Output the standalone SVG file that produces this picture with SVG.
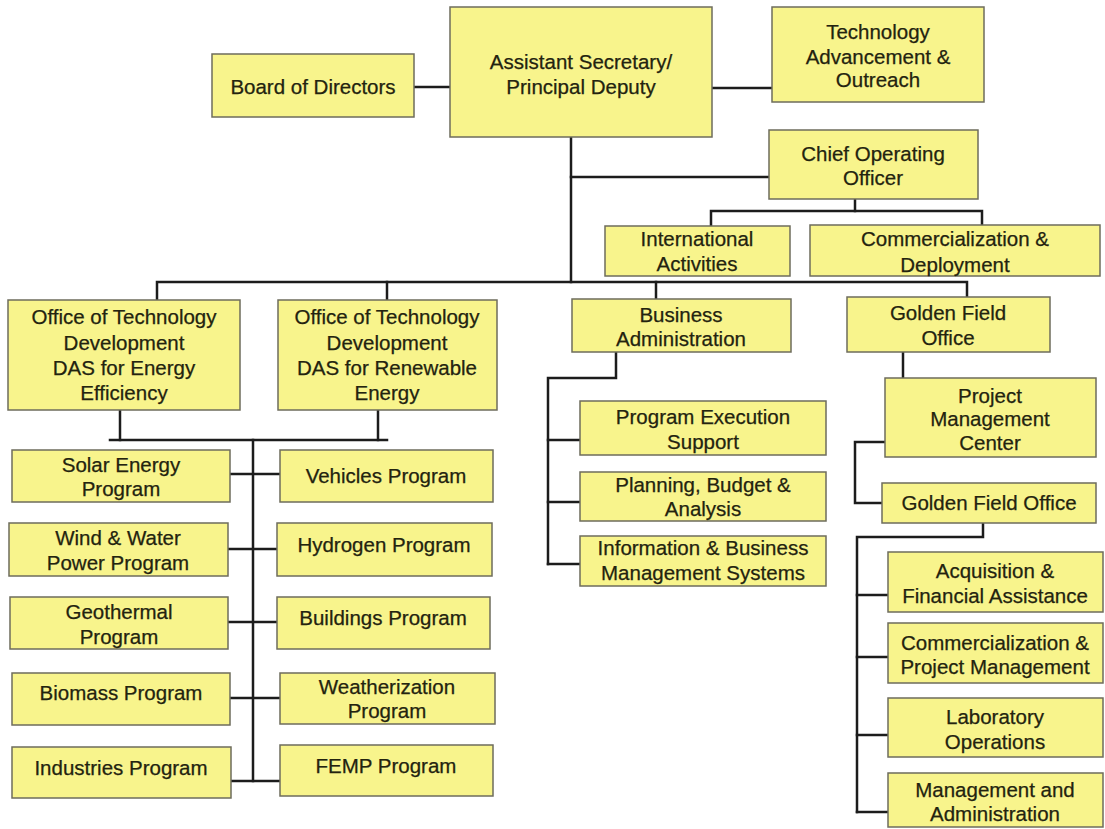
<svg xmlns="http://www.w3.org/2000/svg" width="1105" height="829" viewBox="0 0 1105 829">
  <style>
    .box { fill: #f8f48c; stroke: #6e6c5c; stroke-width: 1.5; }
    .lbl { font-family: "Liberation Sans", Arial, sans-serif; font-size: 20.5px; fill: #23230f; stroke: #23230f; stroke-width: 0.25; text-anchor: middle; }
    .wire { fill: none; stroke: #1c1c1c; stroke-width: 2.5; stroke-linecap: square; stroke-linejoin: miter; }
  </style>
  <rect width="1105" height="829" fill="#ffffff"/>

  <!-- connectors -->
  <g id="connectors" class="wire">
    <path d="M414,87 H450"/>
    <path d="M712,88 H772"/>
    <path d="M571,137 V282"/>
    <path d="M571,177 H769"/>
    <path d="M855,199 V211"/>
    <path d="M711,226 V211 H982 V225"/>
    <path d="M157,300 V282 H967 V297"/>
    <path d="M387,282 V300"/>
    <path d="M656,282 V299"/>
    <path d="M120,410 V440"/>
    <path d="M378,410 V440"/>
    <path d="M110,440 H387"/>
    <path d="M253,440 V781"/>
    <path d="M230,474 H280"/>
    <path d="M228,549 H277"/>
    <path d="M228,622 H277"/>
    <path d="M230,698 H280"/>
    <path d="M231,781 H280"/>
    <path d="M616,352 V378 H548 V564"/>
    <path d="M548,440 H580"/>
    <path d="M548,502 H580"/>
    <path d="M548,564 H580"/>
    <path d="M903,352 V378"/>
    <path d="M885,442 H855 V503 H882"/>
    <path d="M983,523 V537 H857 V812"/>
    <path d="M857,595 H888"/>
    <path d="M857,657 H888"/>
    <path d="M857,735 H888"/>
    <path d="M857,812 H888"/>
  </g>

  <!-- top level -->
  <g id="board">
    <rect class="box" x="212" y="54" width="202" height="63"/>
    <text class="lbl" x="313" y="94">Board of Directors</text>
  </g>
  <g id="assistant-secretary">
    <rect class="box" x="450" y="7" width="262" height="130"/>
    <text class="lbl" x="581" y="69">Assistant Secretary/</text>
    <text class="lbl" x="581" y="94">Principal Deputy</text>
  </g>
  <g id="tech-advancement">
    <rect class="box" x="772" y="7" width="212" height="95"/>
    <text class="lbl" x="878" y="39">Technology</text>
    <text class="lbl" x="878" y="64">Advancement &amp;</text>
    <text class="lbl" x="878" y="87">Outreach</text>
  </g>
  <g id="coo">
    <rect class="box" x="769" y="130" width="209" height="69"/>
    <text class="lbl" x="873" y="161">Chief Operating</text>
    <text class="lbl" x="873" y="185">Officer</text>
  </g>
  <g id="international">
    <rect class="box" x="605" y="226" width="185" height="50"/>
    <text class="lbl" x="697" y="246">International</text>
    <text class="lbl" x="697" y="271">Activities</text>
  </g>
  <g id="commercialization-deployment">
    <rect class="box" x="810" y="225" width="290" height="51"/>
    <text class="lbl" x="955" y="246">Commercialization &amp;</text>
    <text class="lbl" x="955" y="272">Deployment</text>
  </g>

  <!-- second level -->
  <g id="otd-efficiency">
    <rect class="box" x="8" y="300" width="232" height="110"/>
    <text class="lbl" x="124" y="324">Office of Technology</text>
    <text class="lbl" x="124" y="350">Development</text>
    <text class="lbl" x="124" y="375">DAS for Energy</text>
    <text class="lbl" x="124" y="400">Efficiency</text>
  </g>
  <g id="otd-renewable">
    <rect class="box" x="278" y="300" width="219" height="110"/>
    <text class="lbl" x="387" y="324">Office of Technology</text>
    <text class="lbl" x="387" y="350">Development</text>
    <text class="lbl" x="387" y="375">DAS for Renewable</text>
    <text class="lbl" x="387" y="400">Energy</text>
  </g>
  <g id="business-admin">
    <rect class="box" x="572" y="299" width="219" height="53"/>
    <text class="lbl" x="681" y="322">Business</text>
    <text class="lbl" x="681" y="346">Administration</text>
  </g>
  <g id="golden-field">
    <rect class="box" x="847" y="297" width="203" height="55"/>
    <text class="lbl" x="948" y="320">Golden Field</text>
    <text class="lbl" x="948" y="345">Office</text>
  </g>

  <!-- business administration units -->
  <g id="program-execution">
    <rect class="box" x="580" y="401" width="246" height="54"/>
    <text class="lbl" x="703" y="424">Program Execution</text>
    <text class="lbl" x="703" y="449">Support</text>
  </g>
  <g id="planning-budget">
    <rect class="box" x="580" y="472" width="246" height="49"/>
    <text class="lbl" x="703" y="492">Planning, Budget &amp;</text>
    <text class="lbl" x="703" y="516">Analysis</text>
  </g>
  <g id="info-systems">
    <rect class="box" x="580" y="536" width="246" height="50"/>
    <text class="lbl" x="703" y="555">Information &amp; Business</text>
    <text class="lbl" x="703" y="580">Management Systems</text>
  </g>

  <!-- golden field units -->
  <g id="project-mgmt-center">
    <rect class="box" x="885" y="378" width="211" height="79"/>
    <text class="lbl" x="990" y="403">Project</text>
    <text class="lbl" x="990" y="426">Management</text>
    <text class="lbl" x="990" y="450">Center</text>
  </g>
  <g id="golden-field-office">
    <rect class="box" x="882" y="483" width="214" height="40"/>
    <text class="lbl" x="989" y="510">Golden Field Office</text>
  </g>
  <g id="acquisition">
    <rect class="box" x="888" y="552" width="215" height="60"/>
    <text class="lbl" x="995" y="578">Acquisition &amp;</text>
    <text class="lbl" x="995" y="603">Financial Assistance</text>
  </g>
  <g id="commercialization-pm">
    <rect class="box" x="888" y="623" width="215" height="60"/>
    <text class="lbl" x="995" y="650">Commercialization &amp;</text>
    <text class="lbl" x="995" y="674">Project Management</text>
  </g>
  <g id="laboratory-ops">
    <rect class="box" x="888" y="698" width="215" height="59"/>
    <text class="lbl" x="995" y="724">Laboratory</text>
    <text class="lbl" x="995" y="749">Operations</text>
  </g>
  <g id="management-admin">
    <rect class="box" x="888" y="773" width="215" height="54"/>
    <text class="lbl" x="995" y="797">Management and</text>
    <text class="lbl" x="995" y="821">Administration</text>
  </g>

  <!-- programs -->
  <g id="solar">
    <rect class="box" x="12" y="450" width="218" height="52"/>
    <text class="lbl" x="121" y="472">Solar Energy</text>
    <text class="lbl" x="121" y="496">Program</text>
  </g>
  <g id="vehicles">
    <rect class="box" x="280" y="450" width="213" height="52"/>
    <text class="lbl" x="386" y="483">Vehicles Program</text>
  </g>
  <g id="wind-water">
    <rect class="box" x="9" y="523" width="219" height="53"/>
    <text class="lbl" x="118" y="545">Wind &amp; Water</text>
    <text class="lbl" x="118" y="570">Power Program</text>
  </g>
  <g id="hydrogen">
    <rect class="box" x="277" y="523" width="215" height="53"/>
    <text class="lbl" x="384" y="552">Hydrogen Program</text>
  </g>
  <g id="geothermal">
    <rect class="box" x="10" y="597" width="218" height="52"/>
    <text class="lbl" x="119" y="619">Geothermal</text>
    <text class="lbl" x="119" y="644">Program</text>
  </g>
  <g id="buildings">
    <rect class="box" x="277" y="597" width="213" height="52"/>
    <text class="lbl" x="383" y="625">Buildings Program</text>
  </g>
  <g id="biomass">
    <rect class="box" x="12" y="673" width="218" height="52"/>
    <text class="lbl" x="121" y="700">Biomass Program</text>
  </g>
  <g id="weatherization">
    <rect class="box" x="280" y="673" width="215" height="51"/>
    <text class="lbl" x="387" y="694">Weatherization</text>
    <text class="lbl" x="387" y="718">Program</text>
  </g>
  <g id="industries">
    <rect class="box" x="12" y="747" width="219" height="51"/>
    <text class="lbl" x="121" y="775">Industries Program</text>
  </g>
  <g id="femp">
    <rect class="box" x="280" y="745" width="213" height="51"/>
    <text class="lbl" x="386" y="773">FEMP Program</text>
  </g>
</svg>
